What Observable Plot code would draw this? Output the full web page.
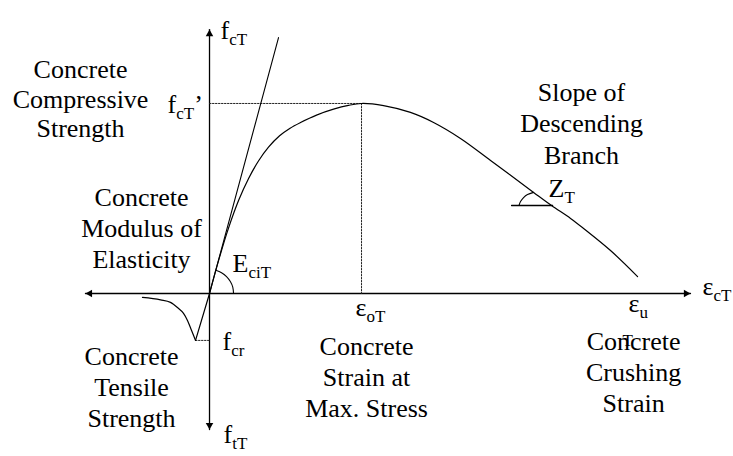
<!DOCTYPE html>
<html>
<head>
<meta charset="utf-8">
<script src="https://cdn.jsdelivr.net/npm/d3@7"></script>
<script src="https://cdn.jsdelivr.net/npm/@observablehq/plot@0.6"></script>
<style>
  body { margin: 0; background: #fff; }
</style>
</head>
<body>
<div id="chart"></div>
<script>
// Units: strain relative to the strain at peak stress, stress relative to the compressive strength.
const peakStrain = 1;
const peakStress = 1;
const crackStrain = -0.092;
const crackStress = -0.247;
const ultimateStrain = 2.816;

// Compression branch: ascending part up to the peak, then the descending branch to crushing
const compStrain = [0, 0.066, 0.125, 0.191, 0.257, 0.322, 0.388, 0.461, 0.530, 0.599, 0.704, 0.816, 0.914, 1,
                    1.145, 1.322, 1.474, 1.651, 1.849, 2.132, 2.25, 2.375, 2.461, 2.638, 2.816];
const compStress = [0, 0.191, 0.344, 0.489, 0.605, 0.697, 0.770, 0.830, 0.870, 0.900, 0.939, 0.970, 0.990, 1,
                    0.989, 0.953, 0.900, 0.816, 0.700, 0.532, 0.463, 0.395, 0.342, 0.226, 0.089];

// Tension: linear up to cracking, then tension softening
const tensLinearStrain = [0, -0.092];
const tensLinearStress = [0, -0.247];
const softStrain = [-0.441, -0.322, -0.257, -0.211, -0.171, -0.145, -0.118, -0.092];
const softStress = [-0.021, -0.034, -0.047, -0.074, -0.105, -0.142, -0.195, -0.247];

// Initial tangent (modulus of elasticity)
const tangentStrain = [0, 0.454];
const tangentStress = [0, 1.347];

// Angle marks for the initial modulus and for the descending slope
const eArcStrain = [0.158, 0.153, 0.137, 0.112, 0.079, 0.041];
const eArcStress = [0, 0.033, 0.063, 0.089, 0.109, 0.122];
const zArcStrain = [2.036, 2.046, 2.066, 2.092, 2.132];
const zArcStress = [0.463, 0.484, 0.505, 0.521, 0.532];
const zBaseStrain = [1.987, 2.257];
const zBaseStress = [0.463, 0.463];

// Axis extents
const strainAxis = [-0.816, 3.164];
const stressAxis = [-0.716, 1.389];

// Symbol labels: base letter, subscript, trailing mark
const symbolBases  = ["f",  "f",  "Z", "E",   "ε",  "f",  "f",  "ε",  "ε"];
const symbolSubs   = ["cT", "cT", "T", "ciT", "oT", "cr", "tT", "cT", "u"];
const symbolTrails = ["",   "’",  "",  "",    "",   "",   "",   "",   ""];
const strayMark = "T";

// Descriptive labels
const descriptions = [
  "Concrete\nCompressive\nStrength",
  "Slope of\nDescending\nBranch",
  "Concrete\nModulus of\nElasticity",
  "Concrete\nTensile\nStrength",
  "Concrete\nStrain at\nMax. Stress",
  "Concrete\nCrushing\nStrain"
];

// ---- layout ----
const pts = (xs, ys) => xs.map((x, i) => ({x, y: ys[i]}));
const anchors = {
  stressTop: {x: 0, y: stressAxis[1]},
  stressBottom: {x: 0, y: stressAxis[0]},
  strainRight: {x: strainAxis[1], y: 0},
  origin: {x: 0, y: 0},
  peakStressLevel: {x: 0, y: peakStress},
  peakStrainLevel: {x: peakStrain, y: 0},
  crackLevel: {x: 0, y: crackStress},
  ultimateLevel: {x: ultimateStrain, y: 0},
  slopePoint: {x: compStrain[20], y: compStress[20]}
};
const symbolPlacement = [
  {at: "stressTop", dx: 11, dy: 9},
  {at: "peakStressLevel", dx: -42, dy: 10},
  {at: "slopePoint", dx: -3, dy: -9},
  {at: "origin", dx: 23, dy: -21},
  {at: "peakStrainLevel", dx: -6, dy: 23},
  {at: "crackLevel", dx: 13, dy: 10},
  {at: "stressBottom", dx: 14, dy: 13},
  {at: "strainRight", dx: 12, dy: 2},
  {at: "ultimateLevel", dx: -9, dy: 19}
];
const descriptionPlacement = [
  {at: "peakStressLevel", dx: -129, dy: 34},
  {at: "slopePoint", dx: 30, dy: -42},
  {at: "origin", dx: -68, dy: -25},
  {at: "crackLevel", dx: -78, dy: 87},
  {at: "peakStrainLevel", dx: 5, dy: 124},
  {at: "ultimateLevel", dx: -4, dy: 119}
];

const fontFamily = "Liberation Serif";
const baseSize = 26, subSize = 17, subShift = 6;
const ink = "#000";
const dotted = {stroke: "#222", strokeWidth: 1, strokeDasharray: "1.5 1.5"};
const solid = (w) => ({stroke: ink, strokeWidth: w, fill: "none"});
const symbolString = (i) => symbolBases[i] + symbolSubs[i] + symbolTrails[i];

const symbolMarks = symbolBases.map((b, i) => {
  const p = symbolPlacement[i];
  return Plot.text([anchors[p.at]], {
    x: "x", y: "y", text: () => symbolString(i),
    dx: p.dx, dy: p.dy, textAnchor: "start", lineAnchor: "bottom",
    fontSize: baseSize, fontFamily, fill: ink
  });
});

const descriptionMarks = descriptions.map((t, i) => {
  const p = descriptionPlacement[i];
  return Plot.text([anchors[p.at]], {
    x: "x", y: "y", text: () => t,
    dx: p.dx, dy: p.dy, textAnchor: "middle", lineAnchor: "bottom",
    lineHeight: i === 0 ? 1.14 : 1.21,
    fontSize: baseSize, fontFamily, fill: ink
  });
});

const arrowHead = (anchor, rotate, dx, dy) =>
  Plot.dot([anchor], {x: "x", y: "y", symbol: "triangle", r: 2.8, fill: ink, stroke: "none", rotate, dx, dy});

const chart = Plot.plot({
  width: 733,
  height: 456,
  margin: 0,
  x: {domain: [-1.375, 3.447], axis: null},
  y: {domain: [-0.858, 1.542], axis: null},
  marks: [
    // axes with arrowheads
    Plot.line(pts(strainAxis, [0, 0]), {x: "x", y: "y", ...solid(1.3)}),
    Plot.line(pts([0, 0], stressAxis), {x: "x", y: "y", ...solid(1.3)}),
    arrowHead(anchors.strainRight, 90, -4.4, 0),
    arrowHead({x: strainAxis[0], y: 0}, -90, 4.4, 0),
    arrowHead(anchors.stressTop, 0, 0, 4.4),
    arrowHead(anchors.stressBottom, 180, 0, -4.4),

    // guide lines to the peak and to the cracking stress
    Plot.line(pts([0, peakStrain], [peakStress, peakStress]), {x: "x", y: "y", ...dotted}),
    Plot.line(pts([peakStrain, peakStrain], [peakStress, 0]), {x: "x", y: "y", ...dotted}),
    Plot.line(pts([crackStrain, 0], [crackStress, crackStress]), {x: "x", y: "y", ...dotted}),

    // initial tangent
    Plot.line(pts(tangentStrain, tangentStress), {x: "x", y: "y", ...solid(1.1)}),

    // stress–strain curve
    Plot.line(pts(compStrain, compStress), {x: "x", y: "y", curve: "catmull-rom", ...solid(1.2)}),
    Plot.line(pts(tensLinearStrain, tensLinearStress), {x: "x", y: "y", ...solid(1.2)}),
    Plot.line(pts(softStrain, softStress), {x: "x", y: "y", curve: "monotone-x", ...solid(1.2)}),

    // angle marks
    Plot.line(pts(eArcStrain, eArcStress), {x: "x", y: "y", curve: "natural", ...solid(1.1)}),
    Plot.line(pts(zArcStrain, zArcStress), {x: "x", y: "y", curve: "natural", ...solid(1.1)}),
    Plot.line(pts(zBaseStrain, zBaseStress), {x: "x", y: "y", ...solid(1.3)}),

    // labels
    ...symbolMarks,
    Plot.text([anchors.ultimateLevel], {
      x: "x", y: "y", text: () => strayMark, dx: -10, dy: 53,
      textAnchor: "middle", lineAnchor: "bottom", fontSize: subSize, fontFamily, fill: ink
    }),
    ...descriptionMarks
  ]
});

// Subscripts: split each symbol label into base, lowered subscript and trailing mark
const svg = d3.select(chart);
const textNodes = svg.selectAll("text").nodes();
const used = new Set();
symbolBases.forEach((b, i) => {
  const node = textNodes.find((n) => !used.has(n) && n.textContent === symbolString(i));
  if (!node) return;
  used.add(node);
  const t = d3.select(node);
  t.text(null);
  t.append("tspan").text(b);
  t.append("tspan").attr("font-size", subSize).attr("dy", subShift).text(symbolSubs[i]);
  if (symbolTrails[i]) {
    t.append("tspan").attr("font-size", baseSize).attr("dy", -subShift).text(symbolTrails[i]);
  }
});

document.getElementById("chart").append(chart);
</script>
</body>
</html>
